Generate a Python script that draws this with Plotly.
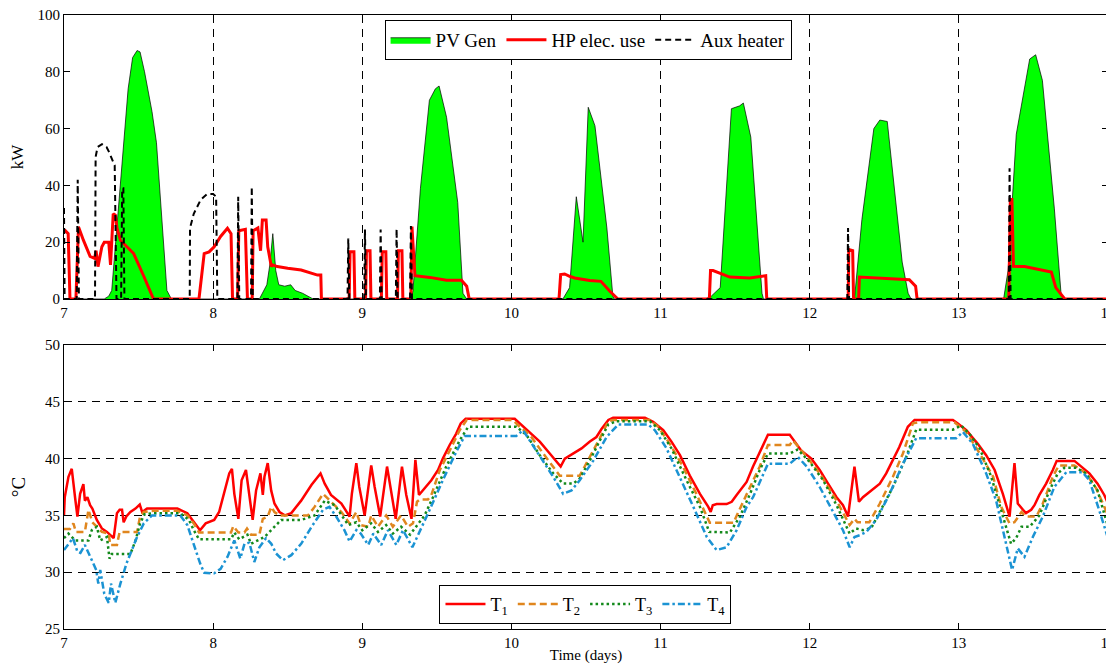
import plotly.graph_objects as go
from plotly.subplots import make_subplots

# ---------------- data ----------------
pv_t = [7.00, 7.27, 7.30, 7.32, 7.43, 7.46, 7.49, 7.51, 7.54, 7.59, 7.62, 7.69, 7.72,
        8.31, 8.36, 8.38, 8.40, 8.42, 8.44, 8.48, 8.52, 8.55, 8.60, 8.67,
        9.33, 9.34, 9.39, 9.45, 9.49, 9.515, 9.565, 9.64, 9.675, 9.70,
        10.345, 10.39, 10.435, 10.48, 10.515, 10.56, 10.64, 10.68, 10.69,
        11.30, 11.34, 11.40, 11.475, 11.53, 11.555, 11.605, 11.68, 11.69,
        12.30, 12.35, 12.43, 12.47, 12.52, 12.62, 12.66, 12.68,
        13.30, 13.33, 13.385, 13.475, 13.515, 13.56, 13.64, 13.685, 13.70, 14.0]
pv_kw = [0, 0, 1, 3, 74, 85, 87.5, 87, 80, 66, 55, 3, 0,
         0, 5, 12, 23, 10, 5, 4.5, 5, 3, 2, 0,
         0, 3, 39, 70, 74, 75, 64, 34, 2, 0,
         0, 4, 36, 20, 67.5, 61, 25, 1, 0,
         0, 1, 4, 67, 68, 69, 57, 2, 0,
         0, 28, 60, 63, 62.5, 13, 2, 0,
         0, 10, 58, 84.5, 86, 77, 32, 2, 0, 0]

hp_t = [7.000, 7.010, 7.028, 7.040, 7.080, 7.097, 7.130, 7.175, 7.205, 7.215, 7.228, 7.254,
        7.270, 7.300, 7.312, 7.330, 7.344, 7.355, 7.378, 7.420, 7.467, 7.535, 7.580, 7.600,
        7.905, 7.940, 7.973, 8.007, 8.050, 8.096, 8.120, 8.130, 8.164, 8.172, 8.216, 8.230,
        8.262, 8.268, 8.300, 8.318, 8.330, 8.355, 8.366, 8.390, 8.400, 8.430, 8.500, 8.590,
        8.700, 8.722, 8.726, 8.912, 8.918, 8.944, 8.950, 9.022, 9.028, 9.052, 9.058, 9.128,
        9.134, 9.158, 9.164, 9.236, 9.242, 9.266, 9.272, 9.326, 9.333, 9.353, 9.453, 9.565,
        9.665, 9.700, 9.717, 10.319, 10.330, 10.357, 10.390, 10.424, 10.525, 10.600, 10.660,
        10.714, 11.327, 11.335, 11.352, 11.464, 11.598, 11.705, 11.712, 12.258, 12.262,
        12.288, 12.294, 12.328, 12.333, 12.420, 12.668, 12.710, 12.720, 13.335, 13.345,
        13.356, 13.366, 13.440, 13.620, 13.650, 13.710, 14.000]
hp_kw = [23.5, 24, 23, 0, 0, 25.4, 20.7, 15, 14.3, 17, 11.4, 18.4,
         20, 20, 12, 30, 29.5, 25, 20.7, 18.4, 16, 8, 2, 0,
         0, 16, 16.6, 18.4, 22, 24.9, 23, 0, 0, 24, 24.5, 0,
         0, 24, 25, 17, 27.8, 27.8, 18.4, 11.4, 12, 11.4, 10.8, 10.2,
         8.4, 8.4, 0, 0, 16.6, 16.6, 0, 0, 17, 17, 0, 0,
         16.6, 16.6, 0, 0, 17, 17, 0, 0, 25.5, 8.2, 7.6, 6.6,
         6.6, 4.5, 0, 0, 8.6, 8.8, 8, 7.4, 6.5, 6.2, 2.7,
         0, 0, 10, 10, 7.7, 7.4, 8.2, 0, 0, 17.4,
         17, 0, 0, 7.7, 7.4, 6.8, 4.5, 0, 0, 35,
         35, 11.5, 11.4, 9.5, 4, 0, 0]

aux_t = [7.000, 7.004, 7.085, 7.092, 7.100, 7.208, 7.212, 7.225, 7.255, 7.285, 7.300, 7.325,
         7.340, 7.352, 7.383, 7.390, 7.398, 7.405, 7.843, 7.845, 7.870, 7.917, 7.960, 8.000,
         8.020, 8.028, 8.163, 8.168, 8.175, 8.254, 8.259, 8.266, 8.901, 8.906, 8.913, 9.013,
         9.018, 9.025, 9.118, 9.123, 9.130, 9.225, 9.230, 9.237, 9.320, 9.326, 9.333, 12.252,
         12.257, 12.264, 13.335, 13.340, 13.347, 14.000]
aux_kw = [32, 0, 0, 42, 0, 0, 50, 53.5, 54.5, 53.5, 52, 49,
          47, 0, 0, 39, 39, 0, 0, 25, 30, 35, 37, 37,
          36, 0, 0, 36, 0, 0, 39.5, 0, 0, 21.3, 0, 0,
          24.5, 0, 0, 24.5, 0, 0, 24.7, 0, 0, 25.7, 0, 0,
          25, 0, 0, 46, 0, 0]

t1_t = [7.0, 7.005, 7.03, 7.052, 7.074, 7.09, 7.108, 7.13, 7.14, 7.157, 7.175, 7.19, 7.22, 7.254,
        7.288, 7.31, 7.333, 7.355, 7.373, 7.389, 7.40, 7.418, 7.445, 7.479, 7.508, 7.524, 7.557,
        7.76, 7.827, 7.872, 7.912, 7.95, 8.007, 8.04, 8.074, 8.108, 8.126, 8.142, 8.169, 8.191,
        8.22, 8.243, 8.265, 8.288, 8.317, 8.333, 8.344, 8.366, 8.389, 8.411, 8.445, 8.48, 8.524,
        8.59, 8.66, 8.72, 8.748, 8.79, 8.86, 8.915, 8.93, 8.96, 8.98, 9.016, 9.06, 9.083, 9.12,
        9.166, 9.195, 9.224, 9.266, 9.295, 9.33, 9.356, 9.38, 9.418, 9.463, 9.508, 9.54, 9.586,
        9.63, 9.66, 9.693, 10.022, 10.056, 10.123, 10.19, 10.257, 10.302, 10.33, 10.358, 10.414,
        10.47, 10.526, 10.57, 10.604, 10.65, 10.682, 10.895, 10.95, 11.018, 11.073, 11.13,
        11.196, 11.264, 11.32, 11.336, 11.35, 11.376, 11.443, 11.477, 11.51, 11.577, 11.62,
        11.665, 11.70, 11.72, 11.866, 11.888, 11.944, 12.011, 12.067, 12.123, 12.18, 12.223,
        12.257, 12.30, 12.33, 12.357, 12.413, 12.47, 12.513, 12.558, 12.60, 12.658, 12.703,
        12.96, 12.993, 13.05, 13.127, 13.183, 13.24, 13.295, 13.34, 13.373, 13.395, 13.43,
        13.45, 13.485, 13.507, 13.54, 13.585, 13.63, 13.656, 13.775, 13.82, 13.875, 13.93,
        13.975, 14.0]
t1_c = [35.0, 36.6, 38.4, 39.1, 36.6, 34.9, 36.9, 37.75, 36.3, 36.6, 35.9, 35.6, 34.6, 33.85,
        33.55, 33.3, 33.0, 35.2, 35.5, 35.5, 34.4, 34.9, 35.3, 35.6, 35.96, 35.3, 35.6,
        35.6, 35.2, 34.4, 33.7, 34.3, 34.6, 35.3, 36.9, 38.7, 39.1, 36.9, 34.7, 38.1,
        39.0, 36.6, 34.6, 37.2, 38.7, 36.8, 38.4, 39.6, 37.2, 36.05, 35.3, 35.0, 35.2,
        36.3, 37.7, 38.7, 37.8, 36.8, 36.05, 34.9, 36.9, 39.6, 37.5, 35.0, 39.4, 37.5, 34.9,
        39.3, 37.0, 34.7, 39.3, 36.8, 34.7, 39.9, 36.8, 37.4, 38.1, 39.0, 40.0, 41.2,
        42.2, 43.1, 43.5, 43.5, 43.1, 42.35, 41.5, 40.45, 39.7, 39.3, 40.0, 40.45,
        40.9, 41.5, 41.9, 42.6, 43.4, 43.6, 43.6, 43.25, 42.5, 41.5, 40.3,
        38.5, 36.9, 35.75, 35.3, 35.9, 36.0, 36.0, 36.2, 36.8, 37.95, 39.3,
        40.6, 41.6, 42.1, 42.1, 41.7, 40.7, 40.0, 39.0, 37.8, 36.6, 35.9,
        34.9, 39.3, 36.2, 36.6, 37.2, 37.8, 38.7, 39.9, 41.0, 42.8, 43.4,
        43.4, 43.1, 42.5, 41.3, 40.3, 39.0, 36.9, 34.9, 39.6, 36.05, 35.5,
        35.2, 35.5, 35.9, 36.8, 37.8, 39.0, 39.8, 39.8, 39.3, 38.7, 37.8,
        36.8, 36.05]

t2_t = [7.0, 7.04, 7.063, 7.08, 7.14, 7.164, 7.19, 7.22, 7.254, 7.30, 7.31, 7.355, 7.373,
        7.49, 7.51, 7.535, 7.60, 7.76, 7.827, 7.87, 7.905, 8.12, 8.135, 8.169, 8.21, 8.227,
        8.254, 8.31, 8.333, 8.366, 8.39, 8.411, 8.445, 8.636, 8.68, 8.737, 8.79, 8.86, 8.915,
        8.96, 8.99, 9.04, 9.06, 9.105, 9.16, 9.205, 9.26, 9.306, 9.34, 9.367, 9.385, 9.44,
        9.463, 9.52, 9.586, 9.653, 9.70, 10.01, 10.056, 10.123, 10.213, 10.28, 10.324,
        10.458, 10.526, 10.593, 10.65, 10.682, 10.928, 10.984, 11.062, 11.15, 11.24, 11.33,
        11.488, 11.544, 11.60, 11.665, 11.72, 11.866, 11.888, 11.98, 12.067, 12.18, 12.246,
        12.268, 12.30, 12.32, 12.40, 12.47, 12.558, 12.625, 12.692, 12.725, 12.97, 13.05,
        13.14, 13.23, 13.284, 13.34, 13.373, 13.42, 13.45, 13.52, 13.563, 13.63, 13.67,
        13.775, 13.853, 13.92, 13.984, 14.0]
t2_c = [33.8, 33.8, 34.3, 33.55, 33.55, 35.5, 34.4, 34.0, 33.55, 33.4, 32.4, 32.4, 33.55,
        33.55, 34.9, 35.3, 35.4, 35.4, 35.0, 34.3, 33.5, 33.5, 34.05, 33.5, 33.5, 33.85,
        33.3, 33.3, 34.7, 34.9, 35.75, 35.3, 35.0, 35.0, 35.75, 36.9, 36.2, 35.3, 34.3,
        35.3, 34.15, 34.0, 35.0, 34.0, 35.0, 34.0, 35.0, 34.0, 34.3, 36.2, 36.4, 36.4,
        36.8, 39.0, 40.7, 42.5, 43.4, 43.4, 42.8, 42.1, 40.45, 39.3, 38.5,
        38.5, 40.15, 41.8, 43.3, 43.4, 43.4, 42.8, 41.3, 39.3, 36.9, 34.35,
        34.35, 36.0, 37.5, 39.3, 41.2, 41.2, 41.6, 40.15, 38.7, 36.3, 34.6,
        34.15, 34.7, 34.4, 34.4, 36.05, 38.4, 40.45, 43.1, 43.2, 43.2, 42.35,
        40.45, 38.4, 35.75, 34.3, 34.4, 35.3, 34.9, 34.9, 36.05, 38.4, 39.4,
        39.4, 38.7, 37.4, 35.5, 35.0]

t3_t = [7.0, 7.03, 7.074, 7.164, 7.186, 7.22, 7.243, 7.288, 7.305, 7.32, 7.445, 7.48, 7.51,
        7.54, 7.60, 7.78, 7.838, 7.87, 7.905, 8.12, 8.142, 8.175, 8.23, 8.254, 8.344, 8.39,
        8.456, 8.59, 8.68, 8.748, 8.816, 8.906, 8.96, 9.0, 9.06, 9.105, 9.16, 9.205, 9.26,
        9.32, 9.36, 9.418, 9.474, 9.563, 9.653, 9.71, 10.033, 10.10, 10.19, 10.28, 10.347,
        10.414, 10.458, 10.526, 10.593, 10.65, 10.705, 10.928, 10.996, 11.073, 11.174,
        11.264, 11.326, 11.465, 11.532, 11.60, 11.665, 11.72, 11.866, 11.92, 12.0, 12.09,
        12.18, 12.268, 12.31, 12.357, 12.413, 12.47, 12.558, 12.647, 12.714, 12.96, 13.016,
        13.07, 13.14, 13.217, 13.295, 13.35, 13.384, 13.42, 13.475, 13.54, 13.608, 13.663,
        13.708, 13.786, 13.853, 13.93, 14.0]
t3_c = [33.0, 33.4, 32.8, 32.8, 33.7, 34.0, 32.8, 33.1, 31.2, 31.6, 31.6, 32.8, 34.3,
        35.1, 35.2, 35.2, 34.6, 33.7, 32.9, 32.9, 33.5, 32.9, 33.3, 32.5, 33.1, 33.7,
        34.6, 34.6, 35.0, 36.3, 35.9, 34.15, 34.4, 33.7, 34.3, 33.55, 34.15, 33.4, 34.0,
        33.3, 34.0, 35.0, 36.6, 39.3, 41.6, 42.8, 42.8, 42.1, 40.3, 38.7, 37.8,
        37.8, 38.25, 39.85, 41.6, 43.0, 43.3, 43.3, 42.5, 40.9, 38.1,
        35.75, 33.55, 33.5, 34.9, 36.9, 39.0, 40.45, 40.45, 40.8, 39.7, 38.1,
        35.9, 33.4, 33.85, 33.7, 33.9, 35.3, 37.5, 40.15, 42.55, 42.55, 42.9,
        42.2, 40.9, 38.4, 34.9, 32.5, 33.0, 34.0, 34.0, 35.0, 37.2, 38.7,
        39.2, 39.2, 38.7, 37.2, 34.0]

t4_t = [7.0, 7.03, 7.06, 7.09, 7.11, 7.14, 7.175, 7.216, 7.23, 7.243, 7.27, 7.30, 7.315,
        7.344, 7.378, 7.42, 7.49, 7.535, 7.59, 7.78, 7.827, 7.87, 7.912, 7.94, 8.007, 8.05,
        8.096, 8.142, 8.182, 8.21, 8.243, 8.276, 8.31, 8.355, 8.39, 8.422, 8.467, 8.524, 8.59,
        8.66, 8.737, 8.78, 8.825, 8.88, 8.915, 8.96, 8.99, 9.04, 9.074, 9.127, 9.172, 9.228,
        9.273, 9.336, 9.385, 9.452, 9.54, 9.63, 9.687, 10.033, 10.078, 10.123, 10.20, 10.28,
        10.347, 10.403, 10.458, 10.548, 10.638, 10.716, 10.917, 10.962, 11.04, 11.13, 11.22,
        11.31, 11.376, 11.443, 11.51, 11.577, 11.62, 11.72, 11.866, 11.92, 11.98, 12.067,
        12.156, 12.223, 12.268, 12.30, 12.335, 12.38, 12.446, 12.536, 12.625, 12.714, 12.982,
        13.027, 13.094, 13.183, 13.25, 13.317, 13.357, 13.395, 13.44, 13.496, 13.563, 13.64,
        13.72, 13.83, 13.875, 13.94, 14.0]
t4_c = [31.95, 32.5, 33.0, 31.8, 31.7, 32.4, 31.35, 30.2, 29.0, 30.2, 28.1, 27.3, 29.0,
        27.3, 29.0, 30.8, 33.1, 34.3, 35.0, 35.0, 34.15, 32.5, 30.8, 29.95, 29.9, 30.3,
        31.35, 32.8, 31.2, 32.5, 32.6, 30.9, 32.2, 33.0, 32.5, 31.65, 31.05, 31.5, 32.5,
        34.0, 35.5, 35.75, 34.9, 33.7, 32.7, 33.7, 33.4, 32.4, 33.4, 32.4, 33.7, 32.4,
        33.7, 32.2, 33.55, 35.5, 38.1, 40.6, 42.0, 42.0, 42.5, 41.6, 40.0, 38.4,
        36.9, 37.2, 38.1, 39.8, 41.9, 43.0, 43.0, 42.5, 40.9, 38.4, 35.75,
        33.1, 31.95, 32.2, 33.7, 35.75, 36.6, 39.55, 39.55, 40.15, 39.3, 37.5,
        35.3, 33.7, 32.2, 33.1, 33.25, 33.55, 34.6, 36.9, 39.55, 41.8, 41.8,
        42.35, 41.3, 38.7, 36.3, 32.5, 30.2, 32.1, 31.35, 33.1, 34.9, 37.5,
        38.8, 38.8, 38.1, 35.5, 33.0]

# ---------------- figure ----------------
FONT = "Liberation Serif"
fig = make_subplots(rows=2, cols=1, vertical_spacing=0.075)

fig.add_trace(go.Scatter(x=pv_t, y=pv_kw, mode="lines", fill="tozeroy",
                         fillcolor="#00ff00", line=dict(color="black", width=0.7),
                         name="PV Gen"), row=1, col=1)
fig.add_trace(go.Scatter(x=hp_t, y=hp_kw, mode="lines",
                         line=dict(color="#ff0000", width=3),
                         name="HP elec. use"), row=1, col=1)
fig.add_trace(go.Scatter(x=aux_t, y=aux_kw, mode="lines",
                         line=dict(color="black", width=2, dash="6px,4px"),
                         name="Aux heater"), row=1, col=1)

fig.add_trace(go.Scatter(x=t1_t, y=t1_c, mode="lines",
                         line=dict(color="#ff0000", width=2.5),
                         name="T<sub>1</sub>", legend="legend2"), row=2, col=1)
fig.add_trace(go.Scatter(x=t2_t, y=t2_c, mode="lines",
                         line=dict(color="#e0861e", width=2.5, dash="7px,4px"),
                         name="T<sub>2</sub>", legend="legend2"), row=2, col=1)
fig.add_trace(go.Scatter(x=t3_t, y=t3_c, mode="lines",
                         line=dict(color="#13891b", width=2.5, dash="2.5px,3px"),
                         name="T<sub>3</sub>", legend="legend2"), row=2, col=1)
fig.add_trace(go.Scatter(x=t4_t, y=t4_c, mode="lines",
                         line=dict(color="#1b93d3", width=2.5, dash="7px,3px,2.5px,3px"),
                         name="T<sub>4</sub>", legend="legend2"), row=2, col=1)

axis_common = dict(showline=True, linecolor="black", linewidth=1, mirror="ticks",
                   ticks="inside", ticklen=6, tickcolor="black", zeroline=False,
                   automargin=False, ticklabeloverflow="allow",
                   tickfont=dict(family=FONT, size=15, color="black"))

fig.update_xaxes(range=[7, 14], dtick=1, **axis_common)
fig.update_yaxes(**axis_common)

# the page body adds an 8 px offset, so the figure is sized/margined to compensate
fig.update_layout(
    xaxis=dict(domain=[0, 1], showgrid=True, griddash="8px,6px", gridcolor="black", gridwidth=1),
    yaxis=dict(domain=[0.5375, 1.0], range=[0, 100], dtick=20, showgrid=False,
               title=dict(text="kW", font=dict(family=FONT, size=17, color="black"), standoff=14)),
    xaxis2=dict(domain=[0, 1], showgrid=False,
                title=dict(text="Time (days)", font=dict(family=FONT, size=15, color="black"), standoff=5)),
    yaxis2=dict(domain=[0.0, 0.4625], range=[25, 50], dtick=5, showgrid=True,
                griddash="8px,6px", gridcolor="black", gridwidth=1,
                title=dict(text="°C", font=dict(family=FONT, size=19, color="black"), standoff=14)),
    width=1106, height=656,
    margin=dict(l=56, r=6, t=7, b=35, autoexpand=False),
    paper_bgcolor="white", plot_bgcolor="white",
    font=dict(family=FONT, color="black"),
    legend=dict(orientation="h", x=0.502, xanchor="center", y=0.992, yanchor="top",
                bordercolor="black", borderwidth=1, bgcolor="white",
                font=dict(family=FONT, size=19, color="black"),
                itemwidth=40, tracegroupgap=0),
    legend2=dict(orientation="h", x=0.4995, xanchor="center", y=0.072, yanchor="top",
                 bordercolor="black", borderwidth=1, bgcolor="white",
                 font=dict(family=FONT, size=18, color="black"),
                 itemwidth=40, tracegroupgap=0),
)

fig.write_html("out.html")
